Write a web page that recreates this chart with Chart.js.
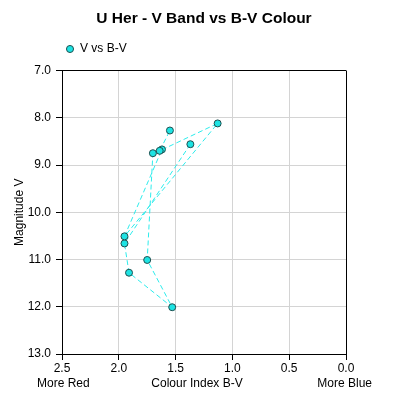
<!DOCTYPE html>
<html>
<head>
<meta charset="utf-8">
<script src="https://cdn.jsdelivr.net/npm/chart.js@4"></script>
<style>
  html, body { margin: 0; padding: 0; background: #fff; }
  #wrap { width: 405px; height: 405px; }
</style>
</head>
<body>
<div id="wrap"><canvas id="hrChart" width="405" height="405"></canvas></div>
<script>
// B-V colour index and V magnitude, in observation order
const bvColour = [1.37, 1.95, 1.91, 1.53, 1.75, 1.70, 1.62, 1.95, 1.13, 1.64, 1.55];
const vMag     = [8.56, 10.66, 11.28, 12.01, 11.01, 8.75, 8.67, 10.51, 8.12, 8.70, 8.27];

const chartTitle = "U Her - V Band vs B-V Colour";
const seriesName = "V vs B-V";
const yTitle = "Magnitude V";
const xLabels = ["More Red", "Colour Index B-V", "More Blue"];

const xRange = [0, 2.5];
const yRange = [7, 13];

Chart.defaults.font.family = "Arial, 'Liberation Sans', sans-serif";
Chart.defaults.font.size = 12;
Chart.defaults.color = "#000";

const gridGrey = "#d4d4d4";

// extra gap under the legend
const legendGap = {
  id: "legendGap",
  beforeInit(chart) {
    const fit = chart.legend.fit;
    chart.legend.fit = function () {
      fit.bind(chart.legend)();
      this.height += 5.5;
    };
  }
};

// three labels under the x axis
const bottomLabels = {
  id: "bottomLabels",
  afterDraw(chart) {
    const ctx = chart.ctx;
    ctx.save();
    ctx.font = "12px Arial, 'Liberation Sans', sans-serif";
    ctx.fillStyle = "#000";
    ctx.textBaseline = "middle";
    const y = 384;
    ctx.textAlign = "left";
    ctx.fillText(xLabels[0], 37, y);
    ctx.textAlign = "center";
    ctx.fillText(xLabels[1], 197, y);
    ctx.textAlign = "right";
    ctx.fillText(xLabels[2], 372, y);
    ctx.restore();
  }
};

const ctx = document.getElementById("hrChart").getContext("2d");
new Chart(ctx, {
  type: "scatter",
  data: {
    datasets: [{
      label: seriesName,
      data: bvColour.map((b, i) => ({ x: b, y: vMag[i] })),
      showLine: true,
      borderColor: "#2cecec",
      borderWidth: 1,
      borderDash: [5, 3],
      pointRadius: 3.5,
      pointBackgroundColor: "#1de3e3",
      pointBorderColor: "#1f4f4f",
      pointBorderWidth: 1
    }]
  },
  options: {
    responsive: false,
    animation: false,
    devicePixelRatio: 1,
    layout: { padding: { left: 8, right: 59, top: 0, bottom: 10 } },
    plugins: {
      title: {
        display: true,
        fullSize: false,
        text: chartTitle,
        font: { size: 15.5, weight: "bold" },
        padding: { top: 9.7, bottom: 10.7 }
      },
      legend: {
        display: true,
        fullSize: false,
        align: "start",
        labels: {
          usePointStyle: true,
          pointStyle: "circle",
          boxWidth: 8,
          boxHeight: 5,
          padding: 4,
          font: { size: 12 }
        }
      },
      tooltip: { enabled: false }
    },
    scales: {
      x: {
        type: "linear",
        reverse: true,
        min: xRange[0],
        max: xRange[1],
        afterFit(scale) { scale.height = 41; },
        ticks: { stepSize: 0.5, padding: 1, callback: v => v.toFixed(1) },
        grid: {
          color: c => (c.tick && c.tick.value === xRange[0]) ? "#000" : gridGrey,
          tickColor: "#000",
          tickLength: 6
        },
        border: { color: "#000" },
        title: { display: false }
      },
      y: {
        type: "linear",
        reverse: true,
        min: yRange[0],
        max: yRange[1],
        afterFit(scale) { scale.width = 54; },
        ticks: { stepSize: 1, padding: 5, callback: v => v.toFixed(1) },
        grid: {
          color: c => (c.tick && c.tick.value === yRange[0]) ? "#000" : gridGrey,
          tickColor: "#000",
          tickLength: 6
        },
        border: { color: "#000" },
        title: { display: true, text: yTitle, padding: { top: 4, bottom: 4 } }
      }
    }
  },
  plugins: [legendGap, bottomLabels]
});
</script>
</body>
</html>
